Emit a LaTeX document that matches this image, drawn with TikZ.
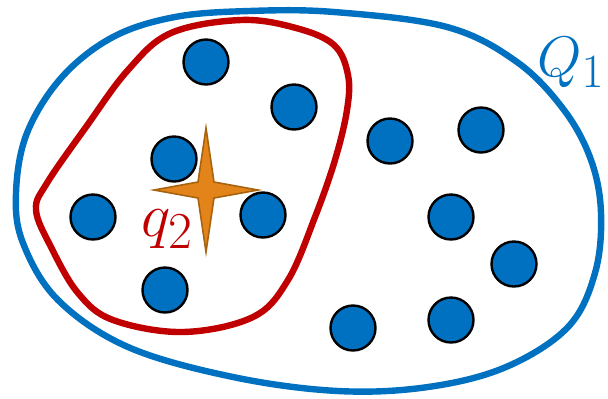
\documentclass[tikz,border=0pt]{standalone}
\definecolor{blau}{HTML}{0070C0}
\definecolor{rot}{HTML}{C00000}
\definecolor{sternfill}{HTML}{E3841A}
\definecolor{sterndraw}{HTML}{A8630F}
\tikzset{
  punkt/.style={circle, draw=black, fill=blau, line width=1.2pt, minimum size=22.5pt, inner sep=0pt},
  menge/.style={line width=3.2pt},
  label/.style={font=\Huge, scale=1.25, inner sep=0pt},
}
\begin{document}
\begin{tikzpicture}[x=0.5pt, y=-0.5pt]
\useasboundingbox (0,0) rectangle (608,398);

% Menge Q1
\draw[menge, blau] plot[smooth cycle, tension=0.6] coordinates {
  (334,12) (447,27) (517,62) (564,110) (591,160) (601,213) (595,273)
  (568,327) (506,367) (428,387) (338,391) (233,377) (128,347) (58,300)
  (23,243) (16,193) (27,133) (62,77) (113,37) (175,17) (249,11)};

% Menge q2
\draw[menge, rot] plot[smooth cycle, tension=0.6] coordinates {
  (241,20) (296,28) (334,45) (348,75) (347,110) (335,160) (315,217)
  (288,280) (253,317) (183,332) (113,320) (78,293) (51,247) (36,210)
  (47,183) (86,127) (128,70) (171,33)};

% Punkte
\node[punkt] (p1) at (206,62) {};
\node[punkt] (p2) at (294,107) {};
\node[punkt] (p3) at (390,141) {};
\node[punkt] (p4) at (481,130) {};
\node[punkt] (p5) at (174,159) {};
\node[punkt] (p6) at (93,217) {};
\node[punkt] (p7) at (263,215) {};
\node[punkt] (p8) at (165,290) {};
\node[punkt] (p9) at (451,217) {};
\node[punkt] (p10) at (514,264) {};
\node[punkt] (p11) at (353,328) {};
\node[punkt] (p12) at (451,320) {};

% Stern
\filldraw[fill=sternfill, draw=sterndraw, line width=0.8pt, shift={(206,190)}]
  (0,-62) -- (8,-8) -- (52,0) -- (8,8) -- (0,62) -- (-8,8) -- (-52,0) -- (-8,-8) -- cycle;

% Beschriftung
\node[label, blau, anchor=base east, scale=0.92] (lQ) at (605,76) {$Q_1$};
\node[label, rot, anchor=base west] (lq) at (141,236) {$q_2$};

\end{tikzpicture}
\end{document}
